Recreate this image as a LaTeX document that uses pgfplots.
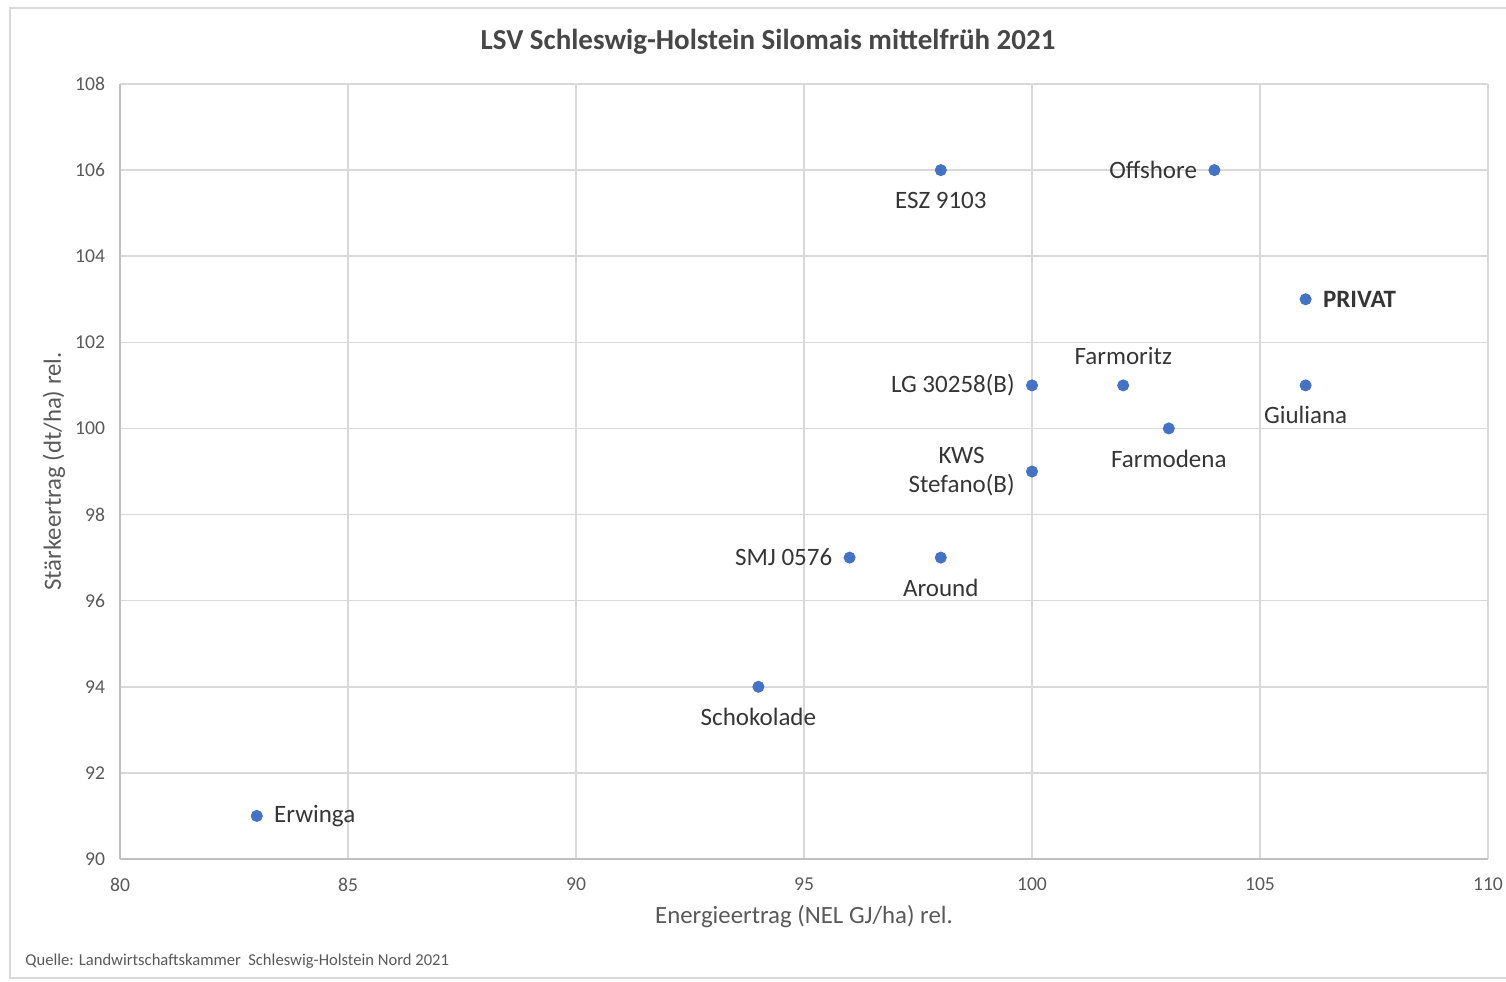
\documentclass[border=0pt]{standalone}
\usepackage{pgfplots}
\pgfplotsset{compat=1.18}
\usepackage{fontspec}
\setmainfont{Carlito}
\definecolor{dotblue}{HTML}{4472C4}
\definecolor{txtgray}{HTML}{595959}
\definecolor{gridgray}{HTML}{D9D9D9}
\definecolor{axgray}{HTML}{BFBFBF}
\begin{document}
\begin{tikzpicture}
\useasboundingbox (0,0) rectangle (753pt,490.5pt);
\begin{scope}
\clip (0,0) rectangle (753pt,490.5pt);
\draw[color=gridgray, line width=1pt] (5pt,1.5pt) rectangle (800pt,486.5pt);
\end{scope}
\begin{axis}[
  at={(60pt,61pt)}, anchor=south west,
  scale only axis, width=684pt, height=387.5pt,
  xmin=80, xmax=110, ymin=90, ymax=108,
  xtick={80,85,...,110}, ytick={90,92,...,108},
  grid=major,
  major grid style={color=gridgray, line width=0.8pt},
  axis line style={color=axgray, line width=0.8pt},
  axis x line*=bottom, axis y line*=left,
  tick style={draw=none},
  /pgf/number format/assume math mode=true,
  ticklabel style={font=\fontsize{9.8pt}{11pt}\selectfont, text=txtgray},
  xticklabel style={yshift=-6pt},
  yticklabel style={xshift=-4pt},
  clip=false,
  dot/.style={only marks, mark=*, mark size=2.8pt, color=dotblue,
     mark options={draw=dotblue, fill=dotblue},
     nodes near coords, point meta=explicit symbolic},
  nodes near coords style={font=\fontsize{12.5pt}{14.5pt}\selectfont, text=txtgray!60!black, inner sep=0pt},
]
% labels right
\addplot[dot, every node near coord/.append style={anchor=west, xshift=8.5pt}]
  coordinates {(83,91) [Erwinga] (106,103) [\textbf{PRIVAT}]};
% labels left
\addplot[dot, every node near coord/.append style={anchor=east, xshift=-8.5pt}]
  coordinates {(96,97) [SMJ 0576] (100,101) [LG 30258(B)] (104,106) [Offshore]};
% labels below
\addplot[dot, every node near coord/.append style={anchor=center, yshift=-15pt}]
  coordinates {(94,94) [Schokolade] (98,97) [Around] (98,106) [ESZ 9103] (103,100) [Farmodena] (106,101) [Giuliana]};
% label above
\addplot[dot, every node near coord/.append style={anchor=center, yshift=14.5pt}]
  coordinates {(102,101) [Farmoritz]};
% two-line label left
\addplot[dot, every node near coord/.append style={anchor=east, xshift=-8.5pt, align=center}]
  coordinates {(100,99) [{KWS\\Stefano(B)}]};
\end{axis}
\node[font=\bfseries\fontsize{14.5pt}{17pt}\selectfont, text=txtgray!80!black] at (384pt,469.5pt) {LSV Schleswig-Holstein Silomais mittelfrüh 2021};
\node[font=\fontsize{12.4pt}{14pt}\selectfont, text=txtgray] at (402pt,32pt) {Energieertrag (NEL GJ/ha) rel.};
\node[font=\fontsize{12.4pt}{14pt}\selectfont, text=txtgray, rotate=90] at (27pt,254.75pt) {Stärkeertrag (dt/ha) rel.};
\node[font=\fontsize{8.3pt}{10pt}\selectfont, text=txtgray, anchor=west, inner sep=0pt] at (12.5pt,10pt) {Quelle: Landwirtschaftskammer\ \ Schleswig-Holstein Nord 2021};
\end{tikzpicture}
\end{document}
